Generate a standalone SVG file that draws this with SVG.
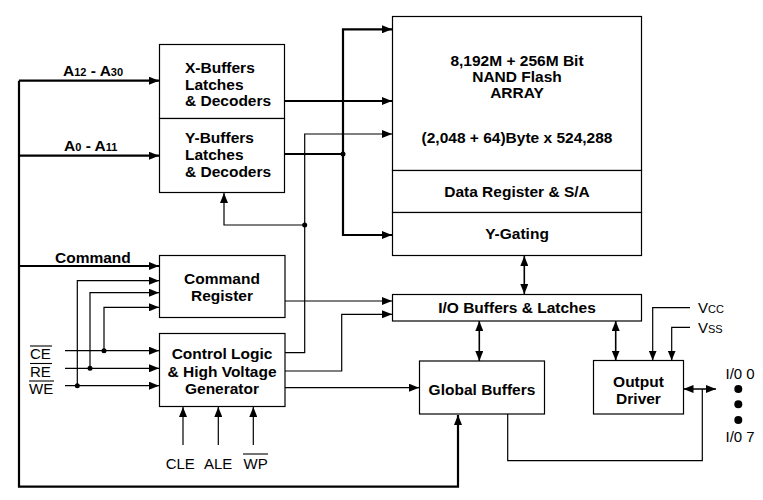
<svg xmlns="http://www.w3.org/2000/svg" width="763" height="500" viewBox="0 0 763 500">
<defs>
<marker id="ah" markerUnits="userSpaceOnUse" markerWidth="10" markerHeight="8" refX="10" refY="4" orient="auto-start-reverse">
<path d="M0,0 L10,4 L0,8 z" fill="#000"/>
</marker>
</defs>
<style>
.box{fill:#fff;stroke:#000;stroke-width:1.2}
.t{font-family:"Liberation Sans",Arial,sans-serif;font-weight:bold;font-size:15.5px;fill:#000}
.c{text-anchor:middle}
.p{font-family:"Liberation Sans",Arial,sans-serif;font-size:15px;fill:#000}
.thick{fill:none;stroke:#000;stroke-width:2.2}
.thin{fill:none;stroke:#000;stroke-width:1.2}
.dbl{fill:none;stroke:#000;stroke-width:1.6}
.ov{stroke:#000;stroke-width:1.1}
</style>
<rect width="763" height="500" fill="#fff"/>

<g id="connectors">
<path class="thick" d="M19,80.7 V486.7 H458 V415" marker-end="url(#ah)"/>
<path class="thick" d="M19,80.7 H159" marker-end="url(#ah)"/>
<path class="thick" d="M19,155.7 H159" marker-end="url(#ah)"/>
<path class="thick" d="M19,266 H159" marker-end="url(#ah)"/>
<path class="thick" d="M284,101 H392" marker-end="url(#ah)"/>
<path class="thick" d="M284,154 H343"/>
<path class="thick" d="M343,154 V29.3 H392" marker-end="url(#ah)"/>
<path class="thick" d="M343,154 V235 H392" marker-end="url(#ah)"/>
<circle cx="343" cy="154" r="2.5"/>

<path class="thin" d="M285,352.7 H304.7 V134 H392" marker-end="url(#ah)"/>
<path class="thin" d="M304.7,225 H224 V193" marker-end="url(#ah)"/>
<circle cx="304.7" cy="225" r="2.5"/>
<path class="thin" d="M285,301 H392" marker-end="url(#ah)"/>
<path class="thin" d="M285,371 H341.7 V314.3 H392" marker-end="url(#ah)"/>
<path class="thin" d="M285,387.7 H419" marker-end="url(#ah)"/>

<path class="thin" d="M65,350.7 H159" marker-end="url(#ah)"/>
<path class="thin" d="M65,368.3 H159" marker-end="url(#ah)"/>
<path class="thin" d="M65,385.7 H159" marker-end="url(#ah)"/>
<path class="thin" d="M104,350.7 V307.3 H159" marker-end="url(#ah)"/>
<path class="thin" d="M90,368.3 V292.7 H159" marker-end="url(#ah)"/>
<path class="thin" d="M77.3,385.7 V280.7 H159" marker-end="url(#ah)"/>
<circle cx="104" cy="350.7" r="2.5"/>
<circle cx="90" cy="368.3" r="2.5"/>
<circle cx="77.3" cy="385.7" r="2.5"/>

<path class="thin" d="M183,445 V407" marker-end="url(#ah)"/>
<path class="thin" d="M218.3,445 V407" marker-end="url(#ah)"/>
<path class="thin" d="M253.3,445 V407" marker-end="url(#ah)"/>

<path class="dbl" d="M524.3,256 V294" marker-start="url(#ah)" marker-end="url(#ah)"/>
<path class="dbl" d="M479.3,321 V361" marker-start="url(#ah)" marker-end="url(#ah)"/>
<path class="dbl" d="M615.7,321 V360.5" marker-start="url(#ah)" marker-end="url(#ah)"/>

<path class="thin" d="M690,307.7 H652.7 V360.5" marker-end="url(#ah)"/>
<path class="thin" d="M690,327.3 H671.7 V360.5" marker-end="url(#ah)"/>
<path class="thin" d="M507.7,414 V460.7 H702.3 V389"/>
<path class="dbl" d="M683.5,389 H716" marker-start="url(#ah)" marker-end="url(#ah)"/>
</g>

<g id="x-buffers">
<rect class="box" x="159.5" y="44.5" width="125" height="74"/>
<text class="t" x="185" y="72.5">X-Buffers</text>
<text class="t" x="185" y="89.5">Latches</text>
<text class="t" x="185" y="106">&amp; Decoders</text>
</g>
<g id="y-buffers">
<rect class="box" x="159.5" y="118.5" width="125" height="74"/>
<text class="t" x="185" y="142.5">Y-Buffers</text>
<text class="t" x="185" y="159.5">Latches</text>
<text class="t" x="185" y="177">&amp; Decoders</text>
</g>
<g id="array">
<rect class="box" x="392.5" y="16.5" width="249" height="154"/>
<text class="t c" x="517" y="65.7">8,192M + 256M Bit</text>
<text class="t c" x="517" y="81.7">NAND Flash</text>
<text class="t c" x="517" y="98.3">ARRAY</text>
<text class="t c" x="517" y="143.3">(2,048 + 64)Byte x 524,288</text>
</g>
<g id="data-register">
<rect class="box" x="392.5" y="170.5" width="249" height="42"/>
<text class="t c" x="517" y="196.7">Data Register &amp; S/A</text>
</g>
<g id="y-gating">
<rect class="box" x="392.5" y="212.5" width="249" height="43"/>
<text class="t c" x="517" y="239.3">Y-Gating</text>
</g>
<g id="command-register">
<rect class="box" x="159.5" y="255.5" width="125.5" height="62"/>
<text class="t c" x="222" y="284.3">Command</text>
<text class="t c" x="222" y="300.5">Register</text>
</g>
<g id="control-logic">
<rect class="box" x="159.5" y="333.5" width="125.5" height="73"/>
<text class="t c" x="222" y="359">Control Logic</text>
<text class="t c" x="222" y="376.7">&amp; High Voltage</text>
<text class="t c" x="222" y="394">Generator</text>
</g>
<g id="io-buffers">
<rect class="box" x="392.5" y="294.5" width="249" height="26.5"/>
<text class="t c" x="517" y="313.3">I/O Buffers &amp; Latches</text>
</g>
<g id="global-buffers">
<rect class="box" x="419.5" y="361" width="125" height="53"/>
<text class="t c" x="482" y="395">Global Buffers</text>
</g>
<g id="output-driver">
<rect class="box" x="593.5" y="360.5" width="90" height="53.5"/>
<text class="t c" x="638.5" y="387.3">Output</text>
<text class="t c" x="638.5" y="404.3">Driver</text>
</g>

<g id="labels">
<text class="t" x="63" y="75.7">A<tspan font-size="11">12</tspan> - A<tspan font-size="11">30</tspan></text>
<text class="t" x="64" y="151">A<tspan font-size="11">0</tspan> - A<tspan font-size="11">11</tspan></text>
<text class="t" x="55" y="262.7">Command</text>
<text class="p" x="30" y="359">CE</text>
<line class="ov" x1="30" y1="346" x2="52" y2="346"/>
<text class="p" x="30" y="376.7">RE</text>
<line class="ov" x1="30" y1="363.5" x2="52" y2="363.5"/>
<text class="p" x="29" y="394">WE</text>
<line class="ov" x1="29" y1="381" x2="54" y2="381"/>
<text class="p" x="165.7" y="469.3">CLE</text>
<text class="p" x="204" y="469.3">ALE</text>
<text class="p" x="243.5" y="469.3">WP</text>
<line class="ov" x1="243" y1="454" x2="268" y2="454"/>
<text class="p" x="698" y="313.3">V<tspan font-size="11">CC</tspan></text>
<text class="p" x="698" y="332.7">V<tspan font-size="11">SS</tspan></text>
<text class="p" x="725.5" y="379.3" font-size="14">I/0 0</text>
<text class="p" x="725.5" y="441.7" font-size="14">I/0 7</text>
<circle cx="738.3" cy="389" r="4"/>
<circle cx="738.3" cy="404.3" r="4"/>
<circle cx="738.3" cy="420" r="4"/>
</g>
</svg>
